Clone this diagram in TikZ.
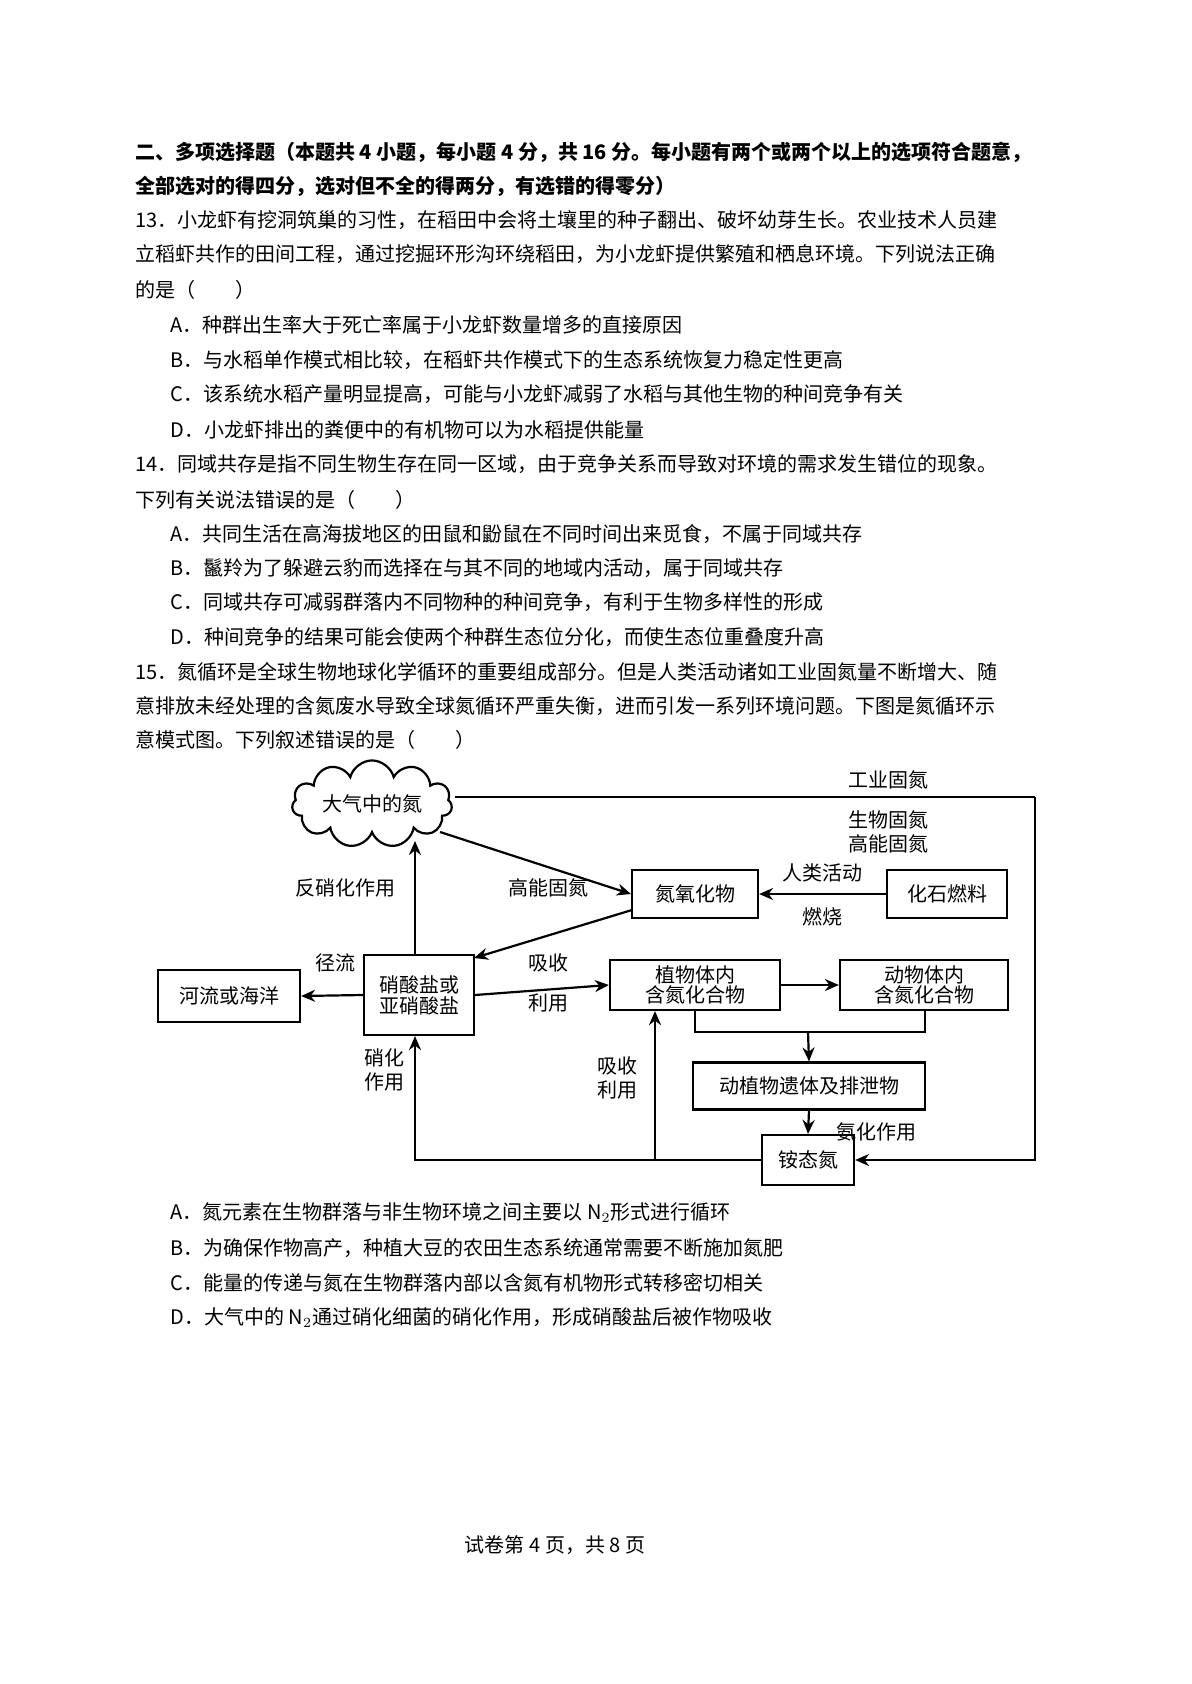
\documentclass[tikz,border=0pt]{standalone}
\usepackage{fontspec}
\setmainfont{Noto Sans CJK SC}
\usetikzlibrary{shapes.symbols,arrows.meta}
\begin{document}
\begin{tikzpicture}[x=0.5pt,y=-0.5pt,
  t/.style={anchor=west,inner sep=0pt,font=\fontsize{10}{12}\selectfont},
  lab/.style={inner sep=0pt,font=\fontsize{10}{12}\selectfont,align=center},
  box/.style={draw,line width=1.1pt,inner sep=0pt,font=\fontsize{10}{11}\selectfont,align=center},
  ar/.style={line width=1.1pt,-{Stealth[length=7pt,width=6pt]}},
  ln/.style={line width=1.1pt}]
\useasboundingbox (0,0) rectangle (1191,1684);
\node[t,font=\fontsize{10}{12}\selectfont\bfseries] (h1) at (135,152) {二、多项选择题（本题共 4 小题，每小题 4 分，共 16 分。每小题有两个或两个以上的选项符合题意，};
\node[t,font=\fontsize{10}{12}\selectfont\bfseries] (h2) at (135,186) {全部选对的得四分，选对但不全的得两分，有选错的得零分）};
\node[t] (l1) at (135,220) {13．小龙虾有挖洞筑巢的习性，在稻田中会将土壤里的种子翻出、破坏幼芽生长。农业技术人员建};
\node[t] (l2) at (135,254) {立稻虾共作的田间工程，通过挖掘环形沟环绕稻田，为小龙虾提供繁殖和栖息环境。下列说法正确};
\node[t] (l3) at (135,290) {的是（\quad\quad）};
\node[t] (l4) at (170,325) {A．种群出生率大于死亡率属于小龙虾数量增多的直接原因};
\node[t] (l5) at (170,360) {B．与水稻单作模式相比较，在稻虾共作模式下的生态系统恢复力稳定性更高};
\node[t] (l6) at (170,394) {C．该系统水稻产量明显提高，可能与小龙虾减弱了水稻与其他生物的种间竞争有关};
\node[t] (l7) at (170,430) {D．小龙虾排出的粪便中的有机物可以为水稻提供能量};
\node[t] (l8) at (135,464) {14．同域共存是指不同生物生存在同一区域，由于竞争关系而导致对环境的需求发生错位的现象。};
\node[t] (l9) at (135,500) {下列有关说法错误的是（\quad\quad）};
\node[t] (l10) at (170,534) {A．共同生活在高海拔地区的田鼠和鼢鼠在不同时间出来觅食，不属于同域共存};
\node[t] (l11) at (170,568) {B．鬣羚为了躲避云豹而选择在与其不同的地域内活动，属于同域共存};
\node[t] (l12) at (170,602) {C．同域共存可减弱群落内不同物种的种间竞争，有利于生物多样性的形成};
\node[t] (l13) at (170,637) {D．种间竞争的结果可能会使两个种群生态位分化，而使生态位重叠度升高};
\node[t] (l14) at (135,672) {15．氮循环是全球生物地球化学循环的重要组成部分。但是人类活动诸如工业固氮量不断增大、随};
\node[t] (l15) at (135,706) {意排放未经处理的含氮废水导致全球氮循环严重失衡，进而引发一系列环境问题。下图是氮循环示};
\node[t] (l16) at (135,740) {意模式图。下列叙述错误的是（\quad\quad）};
% diagram
\node[cloud,draw,line width=1.1pt,cloud puffs=11,aspect=2.4,minimum width=80pt,minimum height=33pt,inner sep=0pt,font=\fontsize{10}{12}\selectfont] (air) at (372,804) {大气中的氮};
\node[box,minimum width=63pt,minimum height=24pt] (nox) at (695,894) {氮氧化物};
\node[box,minimum width=60pt,minimum height=24pt] (fossil) at (947,894) {化石燃料};
\node[box,minimum width=55pt,minimum height=40pt,font=\fontsize{10}{10.5}\selectfont] (nit) at (419,995) {硝酸盐或\\亚硝酸盐};
\node[box,minimum width=71pt,minimum height=26pt] (river) at (229,996) {河流或海洋};
\node[box,minimum width=85pt,minimum height=25pt,font=\fontsize{10}{10}\selectfont] (plant) at (695,985) {植物体内\\含氮化合物};
\node[box,minimum width=84pt,minimum height=25pt,font=\fontsize{10}{10}\selectfont] (animal) at (924,985) {动物体内\\含氮化合物};
\node[box,minimum width=116pt,minimum height=23.5pt] (rem) at (809,1086) {动植物遗体及排泄物};
\node[box,minimum width=46pt,minimum height=25pt] (amm) at (808,1160) {铵态氮};
\coordinate (a0) at (455,797);
\coordinate (a1) at (440,832);
\coordinate (a2) at (415,841);
\coordinate (c1) at (1035,797);
\coordinate (c2) at (1035,1160);
\coordinate (c3) at (655,1160);
\coordinate (c4) at (415,1160);
\coordinate (p0) at (695,1010);
\coordinate (p1) at (695,1032);
\coordinate (p2) at (925,1032);
\coordinate (p4) at (925,1010);
\coordinate (p3) at (808,1032);
\coordinate (n0) at (632,910);
\coordinate (n1) at (474,958);
\draw[ln] (a0) -- (c1);
\draw[ar] (c1) -- (c2) -- (amm.east);
\draw[ar] (a1) -- (nox.west);
\draw[ar] (fossil.west) -- (nox.east);
\draw[ar] (n0) -- (n1);
\draw[ar] (a2 |- nit.north) -- (a2);
\draw[ar] (nit.west) -- (river.east);
\draw[ar] (nit.east) -- (plant.west);
\draw[ar] (plant.east) -- (animal.west);
\draw[ln] (p0) -- (p1) -- (p2) -- (p4);
\draw[ar] (p3) -- (rem.north);
\draw[ar] (rem.south) -- (amm.north);
\draw[ar] (amm.west) -- (c4) -- (c4 |- nit.south);
\draw[ar] (c3) -- (c3 |- plant.south);
\node[lab] (g1) at (888,780) {工业固氮};
\node[lab] (g2) at (888,832) {生物固氮\\高能固氮};
\node[lab] (g3) at (822,873) {人类活动};
\node[lab] (g4) at (822,917) {燃烧};
\node[lab] (g5) at (548,888) {高能固氮};
\node[lab] (g6) at (345,888) {反硝化作用};
\node[lab] (g7) at (335,963) {径流};
\node[lab] (g8) at (548,963) {吸收};
\node[lab] (g9) at (548,1003) {利用};
\node[lab] (g10) at (384,1070) {硝化\\作用};
\node[lab] (g11) at (617,1078) {吸收\\利用};
\node[lab] (g12) at (876,1132) {氨化作用};
% options
\node[t] (o1) at (170,1213) {A．氮元素在生物群落与非生物环境之间主要以 N$_2$形式进行循环};
\node[t] (o2) at (170,1248) {B．为确保作物高产，种植大豆的农田生态系统通常需要不断施加氮肥};
\node[t] (o3) at (170,1283) {C．能量的传递与氮在生物群落内部以含氮有机物形式转移密切相关};
\node[t] (o4) at (170,1318) {D．大气中的 N$_2$通过硝化细菌的硝化作用，形成硝酸盐后被作物吸收};
\node[lab] (ft) at (555,1545) {试卷第 4 页，共 8 页};
\end{tikzpicture}
\end{document}
